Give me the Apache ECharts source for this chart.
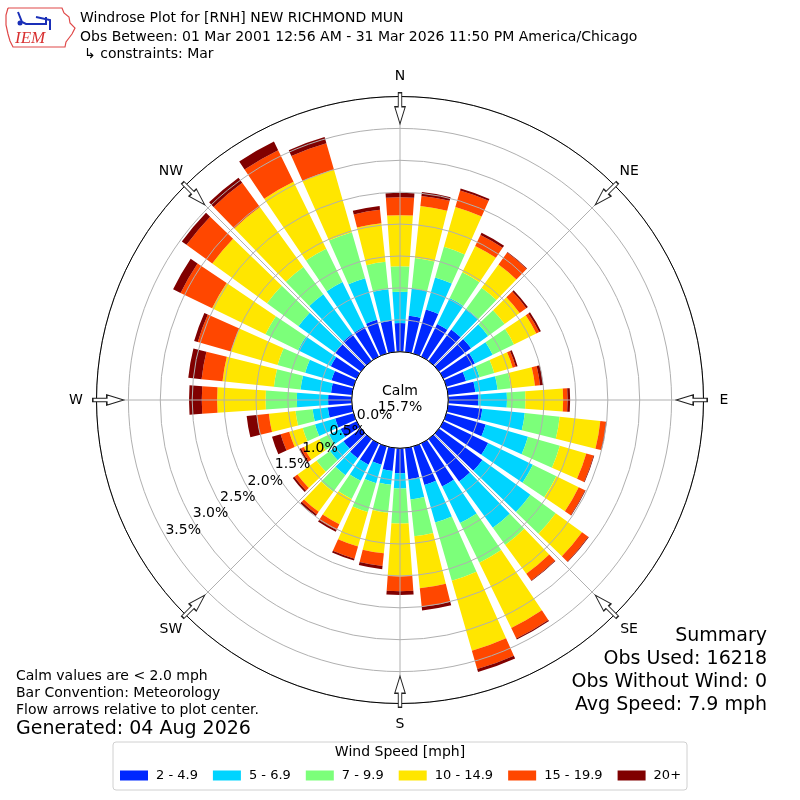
<!DOCTYPE html>
<html>
<head>
<meta charset="utf-8">
<title>Windrose RNH</title>
<script src="https://cdn.jsdelivr.net/npm/echarts@6/dist/echarts.min.js"></script>
<style>
  html, body { margin: 0; padding: 0; background: #fff; }
  #chart { width: 800px; height: 800px; }
</style>
</head>
<body>
<div id="chart"></div>
<script>
// wind directions (degrees from north), one bar each
const directions = [0, 10, 20, 30, 40, 50, 60, 70, 80, 90, 100, 110, 120, 130, 140, 150, 160, 170,
  180, 190, 200, 210, 220, 230, 240, 250, 260, 270, 280, 290, 300, 310, 320, 330, 340, 350];

// frequency (%) per speed bin, same order as directions
const speed2to5 = [0.45, 0.57, 0.72, 0.57, 0.61, 0.62, 0.55, 0.32, 0.43, 0.47, 0.54, 0.64, 0.78, 0.84, 0.82, 0.75, 0.63, 0.49,
  0.39, 0.36, 0.30, 0.37, 0.37, 0.34, 0.28, 0.30, 0.38, 0.37, 0.33, 0.36, 0.45, 0.50, 0.52, 0.52, 0.55, 0.49];
const speed5to7 = [0.49, 0.43, 0.52, 0.45, 0.40, 0.33, 0.31, 0.22, 0.35, 0.45, 0.67, 0.69, 0.78, 0.93, 0.90, 0.64, 0.61, 0.32,
  0.24, 0.22, 0.30, 0.28, 0.33, 0.26, 0.20, 0.33, 0.24, 0.49, 0.48, 0.43, 0.57, 0.71, 0.77, 0.78, 0.68, 0.50];
const speed7to10 = [0.40, 0.48, 0.50, 0.45, 0.41, 0.32, 0.37, 0.24, 0.21, 0.29, 0.55, 0.52, 0.41, 0.49, 0.33, 0.69, 0.95, 0.58,
  0.55, 0.44, 0.47, 0.32, 0.32, 0.26, 0.17, 0.20, 0.27, 0.49, 0.42, 0.45, 0.57, 0.61, 0.53, 0.58, 0.75, 0.43];
const speed10to15 = [0.80, 0.82, 0.65, 0.46, 0.45, 0.29, 0.39, 0.30, 0.38, 0.59, 0.64, 0.43, 0.39, 0.51, 0.56, 1.14, 1.14, 0.82,
  0.83, 0.64, 0.56, 0.44, 0.39, 0.37, 0.27, 0.22, 0.42, 0.76, 0.81, 0.76, 0.93, 1.06, 1.16, 1.17, 1.02, 0.61];
const speed15to20 = [0.28, 0.16, 0.27, 0.19, 0.23, 0.13, 0.05, 0.05, 0.08, 0.07, 0.09, 0.12, 0.11, 0.12, 0.13, 0.18, 0.30, 0.29,
  0.23, 0.20, 0.20, 0.10, 0.05, 0.06, 0.05, 0.14, 0.19, 0.24, 0.33, 0.54, 0.55, 0.50, 0.47, 0.55, 0.43, 0.21];
const speed20plus = [0.07, 0.06, 0.03, 0.04, 0.01, 0.03, 0.03, 0.03, 0.05, 0.04, 0.01, 0.01, 0.01, 0.01, 0.01, 0.02, 0.05, 0.06,
  0.06, 0.05, 0.03, 0.03, 0.03, 0.03, 0.03, 0.14, 0.16, 0.20, 0.21, 0.06, 0.13, 0.09, 0.10, 0.15, 0.10, 0.06];

const binNames = ['2 - 4.9', '5 - 6.9', '7 - 9.9', '10 - 14.9', '15 - 19.9', '20+'];
const binColors = ['#0028ff', '#00d4ff', '#7cff7a', '#ffe600', '#ff4700', '#800000'];
const binValues = [speed2to5, speed5to7, speed7to10, speed10to15, speed15to20, speed20plus];

// radial ticks (%) and compass points
const radialTicks = [0, 0.5, 1.0, 1.5, 2.0, 2.5, 3.0, 3.5];
const compassAngles = [0, 45, 90, 135, 180, 225, 270, 315];
const compassNames = ['N', 'NE', 'E', 'SE', 'S', 'SW', 'W', 'NW'];
const calmPct = 15.7;

const FONT = 'DejaVu Sans';
const chart = echarts.init(document.getElementById('chart'));

const series = binValues.map((vals, i) => ({
  name: binNames[i],
  type: 'bar',
  coordinateSystem: 'polar',
  polarIndex: 0,
  stack: 'wind',
  data: vals,
  barCategoryGap: '20%',
  itemStyle: { color: binColors[i] },
  z: 2
}));

// flow arrows at the compass points
series.push({
  type: 'scatter',
  coordinateSystem: 'polar',
  polarIndex: 1,
  silent: true,
  data: compassAngles.map(a => ({ value: [3.815, a], symbolRotate: -a })),
  symbol: 'path://M6,0 L12,0 L12,14 L18,14 L9,31 L0,14 L6,14 Z',
  symbolSize: [18, 31],
  symbolKeepAspect: true,
  itemStyle: { color: '#fff', borderColor: '#222', borderWidth: 1.2, opacity: 1 },
  z: 6
});

// compass point names, just outside the frame
series.push({
  type: 'scatter',
  coordinateSystem: 'polar',
  polarIndex: 1,
  silent: true,
  symbolSize: 0,
  itemStyle: { opacity: 1 },
  data: compassAngles.map((a, i) => {
    const rad = a * Math.PI / 180;
    return {
      value: [4, a],
      name: compassNames[i],
      label: { offset: [20.5 * Math.sin(rad), -20.5 * Math.cos(rad)] }
    };
  }),
  label: {
    show: true, position: 'inside', formatter: p => p.name,
    color: '#000', fontSize: 14, fontFamily: FONT
  },
  z: 7
});

// radial % labels
series.push({
  type: 'scatter',
  coordinateSystem: 'polar',
  polarIndex: 1,
  silent: true,
  data: radialTicks.map(v => [v, 239]),
  symbolSize: 0,
  itemStyle: { opacity: 1 },
  label: {
    show: true,
    position: 'inside',
    offset: [16, -9.6],
    formatter: p => p.value[0].toFixed(1) + '%',
    color: '#000',
    fontSize: 14,
    fontFamily: FONT
  },
  z: 7
});

const txt = (x, y, text, size, align) => ({
  type: 'text', x: x, y: y, z: 10,
  style: { text: text, fill: '#000', fontSize: size, fontFamily: FONT, align: align || 'left', verticalAlign: 'middle' }
});

chart.setOption({
  animation: false,
  backgroundColor: '#fff',
  polar: [
    { center: [400, 400], radius: [48.3, 303.5] },
    { center: [400, 400], radius: [48.3, 303.5] }
  ],
  angleAxis: [
    { polarIndex: 0, type: 'category', data: directions, startAngle: 95, clockwise: true, show: false },
    {
      polarIndex: 1, type: 'value', min: 0, max: 360, interval: 45, startAngle: 90, clockwise: true, z: 3,
      axisLine: { show: true, lineStyle: { color: '#000', width: 1 } },
      axisTick: { show: false },
      axisLabel: { show: false },
      splitLine: { show: true, lineStyle: { color: '#b0b0b0', width: 1 } }
    }
  ],
  radiusAxis: [
    { polarIndex: 0, type: 'value', min: 0, max: 4, show: false },
    {
      polarIndex: 1, type: 'value', min: 0, max: 4, interval: 0.5, z: 3,
      axisLine: { show: false }, axisTick: { show: false }, axisLabel: { show: false },
      splitLine: { show: true, lineStyle: { color: '#b0b0b0', width: 1 } }
    }
  ],
  legend: {
    data: binNames,
    left: 115, top: 764,
    icon: 'rect', itemWidth: 28, itemHeight: 10, itemGap: 15,
    selectedMode: false,
    textStyle: { fontSize: 13, fontFamily: FONT, color: '#000', padding: [0, 0, 0, 3] }
  },
  series: series,
  graphic: [
    // IEM logo
    {
      type: 'polyline', z: 10,
      shape: { points: [[8, 8], [62, 8], [64, 13], [69, 17], [70, 23], [75, 28], [72, 34], [69, 38], [66, 42], [65, 47],
        [13, 47], [10, 41], [8, 34], [6, 25], [6, 15], [8, 8]] },
      style: { stroke: '#e04848', lineWidth: 1.2, fill: null }
    },
    { type: 'polyline', z: 10, shape: { points: [[18, 12], [22, 22], [26, 24], [46, 24], [46, 17]] }, style: { stroke: '#1a2fb8', lineWidth: 2, fill: null } },
    { type: 'polyline', z: 10, shape: { points: [[36, 17], [50, 20], [50, 30]] }, style: { stroke: '#1a2fb8', lineWidth: 2, fill: null } },
    { type: 'circle', z: 10, shape: { cx: 20, cy: 23, r: 2.5 }, style: { fill: '#1a2fb8' } },
    {
      type: 'text', x: 15, y: 39, z: 10,
      style: { text: 'IEM', fill: '#d83030', fontSize: 17, fontFamily: 'Liberation Serif', fontStyle: 'italic', verticalAlign: 'middle' }
    },
    // title
    txt(80, 18, 'Windrose Plot for [RNH] NEW RICHMOND MUN', 14),
    txt(80, 37, 'Obs Between: 01 Mar 2001 12:56 AM - 31 Mar 2026 11:50 PM America/Chicago', 14),
    txt(84, 54, '\u21b3 constraints: Mar', 14),
    // calm
    txt(400, 391, 'Calm', 14, 'center'),
    txt(400, 407, calmPct.toFixed(1) + '%', 14, 'center'),
    // notes
    txt(16, 676, 'Calm values are < 2.0 mph', 14),
    txt(16, 693, 'Bar Convention: Meteorology', 14),
    txt(16, 710, 'Flow arrows relative to plot center.', 14),
    txt(16, 729, 'Generated: 04 Aug 2026', 19),
    // summary
    txt(767, 636, 'Summary', 19, 'right'),
    txt(767, 659, 'Obs Used: 16218', 19, 'right'),
    txt(767, 682, 'Obs Without Wind: 0', 19, 'right'),
    txt(767, 705, 'Avg Speed: 7.9 mph', 19, 'right'),
    // legend frame and title
    {
      type: 'rect', z: 1,
      shape: { x: 113, y: 742, width: 574, height: 48, r: 3 },
      style: { fill: '#fff', stroke: '#d0d0d0', lineWidth: 1 }
    },
    txt(400, 752, 'Wind Speed [mph]', 14, 'center')
  ]
});
</script>
</body>
</html>
